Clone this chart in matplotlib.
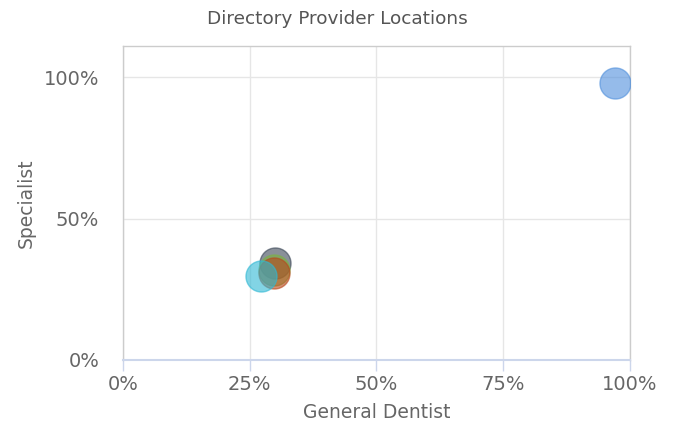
import matplotlib
matplotlib.use("Agg")
import matplotlib.pyplot as plt
from matplotlib.ticker import FuncFormatter

names = ["Provider A", "Provider B", "Provider C", "Provider D", "Provider E"]
general_dentist = [0.97, 0.30, 0.297, 0.298, 0.272]
specialist = [0.979, 0.343, 0.318, 0.307, 0.297]
colors = ["#4f8fdc", "#3a4656", "#7cb342", "#b8471a", "#2fb8d4"]

x_ticks = [0, 0.25, 0.5, 0.75, 1.0]
y_ticks = [0, 0.5, 1.0]

fig = plt.figure(figsize=(6.75, 4.32), dpi=100)
ax = fig.add_axes([0.1822, 0.1667, 0.7511, 0.7268])

for x, y, c in zip(general_dentist, specialist, colors):
    ax.scatter([x], [y], s=500, color=c, alpha=0.6, edgecolors=c, linewidths=1.0, zorder=3)

ax.set_xlim(0, 1.0)
ax.set_ylim(0, 1.11)
ax.set_xticks(x_ticks)
ax.set_yticks(y_ticks)
pct = FuncFormatter(lambda v, p: f"{int(round(v*100))}%")
ax.xaxis.set_major_formatter(pct)
ax.yaxis.set_major_formatter(pct)

ax.grid(True, color="#e6e6e6", linewidth=1, zorder=0)
ax.set_axisbelow(True)
for s in ["top", "left", "right"]:
    ax.spines[s].set_color("#cccccc")
    ax.spines[s].set_linewidth(1)
ax.spines["bottom"].set_color("#ccd6eb")
ax.spines["bottom"].set_linewidth(1.5)

ax.tick_params(axis="x", colors="#ccd6eb", length=8, width=1, labelsize=14, labelcolor="#666666", pad=3)
ax.tick_params(axis="y", length=0, labelsize=14, labelcolor="#666666", pad=17)

ax.set_xlabel("General Dentist", fontsize=13.5, color="#666666", labelpad=6)
ax.set_ylabel("Specialist", fontsize=13.5, color="#666666", labelpad=6)
fig.suptitle("Directory Provider Locations", fontsize=13.3, color="#555555", y=0.978)

fig.savefig("out.png", dpi=100)
